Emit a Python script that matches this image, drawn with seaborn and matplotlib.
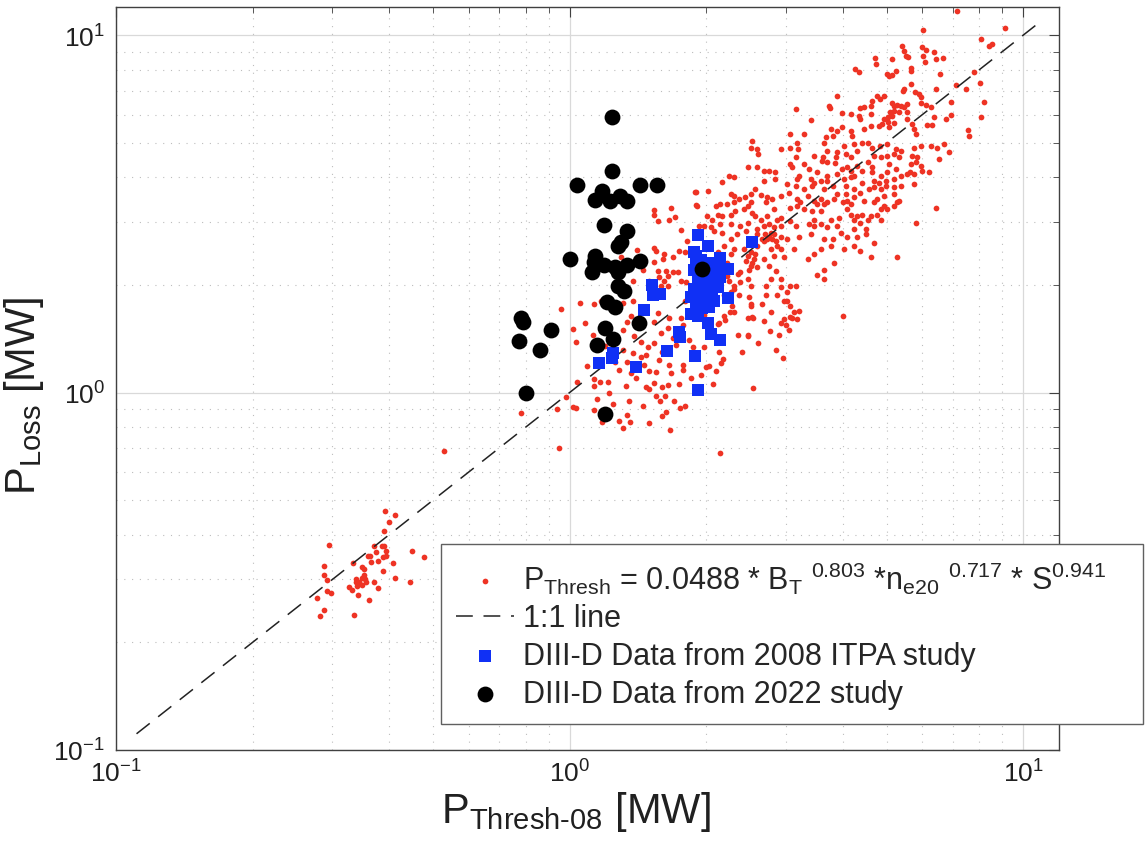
import numpy as np
import pandas as pd
import matplotlib
matplotlib.use('Agg')
import matplotlib.pyplot as plt
import seaborn as sns
from matplotlib.ticker import LogLocator, NullFormatter

# ---- data (MW) ----
# P_Thresh scaling points, low power cluster
red_low = [(0.392,0.466),(0.413,0.454),(0.400,0.434),(0.390,0.410),(0.295,0.374),(0.371,0.372),
           (0.386,0.372),(0.390,0.372),(0.394,0.360),(0.375,0.358),(0.363,0.349),(0.360,0.349),
           (0.388,0.347),(0.394,0.349),(0.379,0.338),(0.365,0.336),(0.333,0.334),(0.450,0.360),
           (0.478,0.347),(0.408,0.334),(0.288,0.327),(0.349,0.325),(0.353,0.321),(0.388,0.317),
           (0.288,0.309),(0.353,0.309),(0.292,0.299),(0.338,0.301),(0.349,0.303),(0.354,0.301),
           (0.413,0.303),(0.445,0.295),(0.338,0.295),(0.344,0.295),(0.356,0.295),(0.371,0.295),
           (0.327,0.286),(0.332,0.280),(0.340,0.288),(0.349,0.289),(0.379,0.284),(0.292,0.279),
           (0.298,0.275),(0.342,0.271),(0.278,0.266),(0.361,0.263),(0.288,0.247),(0.282,0.237),
           (0.335,0.238)]

red_sparse = [(0.96,1.71),(0.782,0.877),(0.94,0.90),(0.98,0.97),(1.02,0.91),(0.529,0.686),
              (0.95,0.70),(2.15,0.677),(2.54,1.03)]

red_mid = [(1.057,1.787),(1.135,1.765),(1.309,1.787),(1.377,1.803),(1.020,1.502),(1.031,1.382),
           (1.079,1.563),(1.124,1.446),(1.090,1.186),(1.036,1.072),(1.130,1.093),(1.165,1.072),
           (1.135,1.046),(1.213,1.072),(1.031,0.908),(1.130,0.892),(1.182,0.829),(1.283,0.834),
           (1.309,0.797),(1.336,0.863),(1.356,0.829),(1.494,0.823),(1.329,1.046),(1.471,1.039),
           (1.494,1.026),(1.532,1.066),(1.595,1.039),(1.620,0.976),(1.579,0.946),(1.628,0.885),
           (1.662,0.787),(1.749,0.903),(1.740,1.059),(2.067,1.059),(1.315,1.493),(1.336,1.573),
           (1.363,1.637),(1.384,1.436),(1.434,1.382),(1.486,1.338),(1.471,1.273),(1.377,1.288),
           (1.315,1.312),(1.342,1.216),(1.283,1.156),(1.363,1.134),(1.456,1.193),(1.548,1.142),
           (1.571,1.232),(1.532,1.373),(1.587,1.464),(1.645,1.512),(1.687,1.418),(1.758,1.616),
           (1.532,1.573),(1.563,1.671),(1.653,1.193),(1.776,1.193),(1.776,1.156),(1.670,1.134),
           (1.975,1.649),(1.831,1.400),(1.868,1.338),(1.975,1.338),(1.995,1.178),(2.026,1.186),
           (2.132,1.296),(2.175,1.240),(2.154,1.208),(2.132,1.563),(2.264,1.682),(2.470,1.616),
           (2.470,1.446),(2.510,1.752),(2.540,1.616),
           (1.532,3.24),(1.532,3.14),(1.678,3.28),(1.704,3.10),(1.563,3.02),(1.653,3.04),
           (1.886,3.64),(1.905,3.35),(1.925,2.92),(1.794,2.47),(1.532,2.54),(1.548,2.49),
           (1.604,2.36),(1.612,2.44),(1.532,2.32),(1.563,2.19),(1.628,2.19),(1.645,2.12),
           (1.687,2.17),(1.730,2.17),(1.571,2.10),(1.612,2.05),(1.494,2.05),(1.645,1.99),
           (1.758,2.05),(1.802,2.04),(1.587,1.99),(1.171,1.80),
           (1.76,2.85),(1.82,2.66),(1.74,2.49),(1.69,2.40),(3.00,1.55),(3.10,1.62),(2.90,1.45),
           (3.05,1.50),(1.30,2.40),(1.41,2.50),(1.45,2.20),(1.38,2.05),(2.70,2.77),(2.75,2.72),
           (2.80,2.69),(2.85,2.66),(2.66,2.69),(2.78,2.80),(2.47,2.41),(2.53,2.31),(2.49,2.21),
           (2.57,2.44),(2.45,2.34),(2.25,2.05),(2.30,1.95),(2.28,1.75),(2.20,1.60),(1.80,1.80),
           (1.78,1.55),(2.35,2.15),
           (1.25,0.93),(1.35,0.95),(1.45,0.92),(1.55,0.98),(1.60,0.86),(1.70,0.95),(1.80,0.92),
           (1.22,1.00),(1.40,1.10),(1.50,1.15),(1.65,1.05),(1.85,1.10),(1.95,1.12),(2.10,1.15),
           (1.15,0.96),(1.26,1.22),(1.44,1.26),(1.60,1.30),(1.72,1.36),(1.20,1.35),(1.66,1.62),
           (2.35,1.45),(2.40,1.30),(2.60,1.38),(2.85,1.32),(2.95,1.25)]

red_upper = [(2.53,5.06),(2.51,4.85),(2.59,4.80),(2.60,4.65),(2.92,4.80),(3.07,4.85),(3.18,5.01),
             (3.19,4.80),(3.15,4.55),(3.46,4.60),(3.64,5.01),(3.70,4.75),(3.63,4.55),(3.89,4.70),
             (4.03,4.90),(4.06,4.65),(4.24,4.96),(4.31,4.75),(4.42,5.01),(4.54,5.01),(4.65,4.85),
             (4.84,4.90),(5.02,4.96),(5.24,4.80),(5.20,4.65),(5.37,4.75),(5.75,4.85),(5.94,4.90),
             (6.26,4.90),(6.47,4.85),(6.69,4.96),(6.88,4.70),(6.53,4.50),(5.85,4.55),(5.70,4.60),
             (5.02,4.60),(5.33,4.55),(4.85,4.55),(4.69,4.60),(4.17,4.55),(3.86,4.55),(3.70,4.41),
             (3.07,4.36),(3.10,4.27),(3.29,4.36),(3.61,4.46),(3.84,4.39),(4.10,4.27),(3.99,4.22),
             (4.17,4.18),(4.31,4.31),(4.54,4.41),(4.65,4.27),(5.06,4.36),(5.24,4.22),(5.65,4.36),
             (5.80,4.41),(5.94,4.31),(5.99,4.18),(6.20,4.13),(5.63,4.13),(5.02,4.13),(4.85,4.04),
             (4.65,4.13),(4.42,4.18),(4.24,4.04),(3.89,4.09),(3.70,4.04),(3.52,4.13),(3.37,4.22),
             (3.21,4.04),(3.18,3.96),(3.40,3.96),(3.46,3.87),(3.58,3.92),(3.70,3.92),(4.03,3.96),
             (4.17,4.00),(4.42,3.87),(4.69,3.92),(4.81,3.87),(4.98,3.92),(5.20,3.96),(5.37,4.04),
             (5.56,4.09),(5.75,4.09),(2.59,4.27),(2.68,4.18),(2.75,4.18),(2.84,4.13),(2.47,4.27),
             (2.25,4.04),(2.30,4.02),(2.17,3.89),(2.84,3.96),(2.68,3.92),
             (1.90,3.65),(2.02,3.67),(2.27,3.59),(2.30,3.54),(2.36,3.48),(2.44,3.52),(2.51,3.59),
             (2.57,3.71),(2.64,3.57),(2.73,3.52),(2.71,3.41),(2.80,3.48),(2.92,3.55),(3.05,3.63),
             (3.18,3.48),(3.23,3.41),(3.35,3.55),(3.46,3.44),(3.58,3.48),(3.70,3.41),(3.83,3.48),
             (3.89,3.59),(4.06,3.59),(4.24,3.71),(4.38,3.63),(4.57,3.71),(4.69,3.75),(4.85,3.71),
             (4.98,3.79),(5.20,3.75),(5.37,3.79),(5.75,3.83),(5.20,3.59),(4.94,3.55),(4.77,3.48),
             (4.46,3.44),(4.24,3.52),(4.10,3.44),(4.06,3.79),(3.80,3.79),(3.64,3.71),(3.43,3.79),
             (3.29,3.71),(3.15,3.79),(3.02,3.83),(4.94,3.33),(5.28,3.41),(5.33,3.44),(4.69,3.41),
             (4.17,3.37),(4.01,3.41),(3.64,3.37),(2.47,3.33),(2.51,3.41),(2.30,3.41),(2.22,3.37),
             (2.15,3.37),(2.10,3.33),
             (1.91,3.33),(2.01,3.12),(2.06,3.05),(2.12,3.15),(2.17,3.12),(2.27,3.15),(2.32,3.22),
             (2.42,3.26),(2.53,3.19),(2.57,3.12),(2.64,3.05),(2.73,3.12),(2.82,3.26),(2.87,3.05),
             (2.75,2.96),(2.92,3.09),(3.07,3.29),(3.18,3.33),(3.29,3.26),(3.43,3.22),(3.52,3.37),
             (3.58,3.22),(3.46,3.05),(3.37,2.96),(3.58,2.96),(3.77,3.05),(3.93,3.09),(4.10,3.26),
             (4.17,3.15),(4.24,3.05),(4.31,3.12),(4.42,3.15),(4.54,3.05),(4.61,3.12),(4.77,3.15),
             (4.85,3.26),(5.02,3.26),(5.20,3.33),(4.85,3.05),(4.38,2.99),(3.89,2.93),(3.70,2.90),
             (3.46,2.93),(3.15,2.93),(3.07,3.02),(2.92,2.93),(2.82,2.90),(2.68,2.93),(2.59,2.87),
             (2.47,2.99),(2.38,2.93),(2.27,2.96),(2.15,2.96),(2.05,2.90),(1.98,2.93),(5.80,2.99),
             (6.42,3.29),(4.50,2.87),(4.24,2.87),
             (2.08,2.83),(2.17,2.80),(2.27,2.69),(2.34,2.77),(2.45,2.83),(2.59,2.77),(2.73,2.69),
             (2.82,2.77),(2.92,2.72),(2.87,2.58),(3.02,2.69),(3.21,2.72),(3.40,2.77),(3.64,2.69),
             (3.80,2.69),(3.96,2.80),(4.10,2.72),(4.31,2.72),(4.50,2.77),(4.69,2.63),(4.24,2.58),
             (4.03,2.52),(3.77,2.58),(3.58,2.52),(3.46,2.44),(3.35,2.36),(3.13,2.52),(2.92,2.52),
             (2.78,2.52),(2.68,2.66),(2.59,2.58),(2.51,2.47),(2.42,2.52),(2.30,2.52),(2.19,2.58),
             (2.12,2.47),(2.27,2.44),(2.55,2.36),(2.68,2.36),(2.82,2.41),(2.97,2.39),(5.28,2.39),
             (4.61,2.39),(4.38,2.49),
             (2.22,2.31),(2.38,2.17),(2.51,2.26),(2.59,2.24),(2.75,2.26),(2.85,2.19),(2.78,2.08),
             (3.07,1.99),(2.92,2.08),(3.15,1.99),(3.52,2.14),(3.64,2.21),(3.64,2.08),(3.83,2.31),
             (2.47,2.08),(2.38,2.04),(2.30,1.99),(2.51,1.99),(2.71,1.99),(2.92,1.97),(2.22,2.12),
             (2.19,1.87),(2.27,1.91),(2.36,1.87),(2.49,1.85),(2.71,1.87),(2.87,1.87),(3.02,1.91),
             (2.97,1.81),(3.07,1.75),(3.21,1.69),(3.13,1.68),(3.07,1.63),(3.18,1.61),(2.97,1.61),
             (2.92,1.57),(2.66,1.77),(2.51,1.77),(2.30,1.68),(2.19,1.64),(2.13,1.56),(2.53,1.63),
             (2.68,1.59),(2.78,1.68),(2.77,1.49),(2.47,1.44),(4.01,1.64),(3.02,1.81)]

red_top = [(7.16,11.66),(6.01,10.33),(9.12,10.50),(8.06,9.79),(8.52,9.48),(8.42,9.34),(5.40,9.30),
           (5.46,9.04),(5.52,8.76),(5.57,8.67),(5.98,9.28),(6.12,9.10),(6.37,8.98),(6.01,8.76),
           (6.07,8.39),(6.42,8.57),(6.67,8.61),(4.72,8.61),(4.75,8.30),(5.15,8.57),(4.25,8.04),
           (4.34,7.90),(5.00,7.78),(5.06,7.69),(5.15,7.72),(5.25,7.95),(5.67,8.12),(5.66,7.95),
           (6.56,7.78),(7.79,7.90),(8.03,7.37),(7.13,7.25),(7.50,7.09),(6.44,7.05),(5.47,7.09),
           (5.44,6.98),(5.65,7.29),(5.77,6.93),(5.90,6.83),(5.95,6.73),(3.89,6.76),(3.73,6.33),
           (3.75,6.26),(4.77,6.76),(4.83,6.65),(4.93,6.76),(4.65,6.55),(4.46,6.28),(4.38,6.24),
           (4.61,6.35),(5.15,6.48),(5.19,6.33),(5.28,6.38),(5.37,6.35),(5.46,6.28),(5.55,6.42),
           (5.19,6.15),(5.09,6.08),(5.32,6.08),(5.13,5.95),(5.03,5.89),(4.93,5.82),(4.89,5.64),
           (5.04,5.72),(5.19,5.67),(5.06,5.52),(5.55,6.08),(5.95,6.48),(6.10,6.38),(6.27,6.28),
           (6.93,6.50),(5.55,5.82),(5.69,5.64),(5.74,5.46),(5.82,5.28),(6.15,5.60),(6.29,5.60),
           (6.35,5.89),(6.76,5.82),(6.95,5.97),(7.56,5.42),(7.58,5.23),(8.06,5.91),(8.20,6.50),
           (3.16,6.22),(3.40,5.80),(3.99,6.04),(4.17,6.02),(4.34,5.95),(4.61,6.02),(4.38,5.82),
           (3.99,5.52),(4.17,5.40),(4.46,5.46),(4.61,5.58),(4.81,5.58),(3.78,5.46),(3.80,5.23),
           (3.67,5.18),(3.29,5.28),(3.07,5.28),(3.89,5.40),(4.20,5.23)]

# DIII-D 2008 ITPA study
blue_x = [1.92, 2.02, 1.88, 1.90, 2.15, 2.23, 2.53, 1.52, 1.58, 1.53, 1.46, 2.23, 1.85, 1.92,
          2.02, 1.74, 1.75, 2.05, 2.15, 1.64, 1.89, 1.25, 1.24, 1.16, 1.40, 1.92,
          1.90, 1.95, 2.00, 2.05, 2.10, 1.92, 1.98, 2.03, 2.08, 1.88, 1.95, 2.00, 2.06,
          2.12, 1.85, 1.92, 1.97, 2.02, 2.08, 1.90, 1.96, 2.03, 2.00, 1.94, 2.15, 1.88]
blue_y = [2.76, 2.57, 2.47, 2.41, 2.38, 2.22, 2.64, 2.00, 1.89, 1.87, 1.70, 1.84, 1.66, 1.64,
          1.57, 1.48, 1.43, 1.46, 1.40, 1.31, 1.27, 1.29, 1.25, 1.21, 1.18, 1.02,
          2.30, 2.35, 2.25, 2.30, 2.20, 2.10, 2.05, 2.10, 2.05, 1.95, 1.95, 1.90, 1.92,
          1.98, 1.85, 1.82, 1.80, 1.85, 1.80, 1.75, 1.72, 1.74, 2.00, 2.15, 2.10, 2.20]

# DIII-D 2022 study
black_x = [1.24, 1.24, 1.04, 1.43, 1.56, 1.18, 1.14, 1.23, 1.29, 1.34, 1.19, 1.34, 1.30, 1.28,
           1.00, 1.14, 1.13, 1.19, 1.26, 1.34, 1.43, 1.12, 1.28, 1.28, 1.32, 1.21, 1.26, 0.78,
           0.79, 0.91, 1.42, 1.20, 1.25, 0.775, 1.15, 0.86, 0.80, 1.20, 1.96]
black_y = [5.90, 4.16, 3.81, 3.81, 3.81, 3.66, 3.46, 3.43, 3.54, 3.43, 2.94, 2.83, 2.64, 2.57,
           2.36, 2.41, 2.32, 2.28, 2.24, 2.27, 2.33, 2.17, 2.17, 1.99, 1.92, 1.79, 1.74, 1.62,
           1.58, 1.50, 1.57, 1.52, 1.41, 1.39, 1.36, 1.32, 1.00, 0.87, 2.22]

one_to_one = [0.111, 11.0]

labels = [r'P$_{\mathrm{Thresh}}$ = 0.0488 * B$_{\mathrm{T}}$ $^{0.803}$ *n$_{\mathrm{e20}}$ $^{0.717}$ * S$^{0.941}$',
          '1:1 line',
          'DIII-D Data from 2008 ITPA study',
          'DIII-D Data from 2022 study']

red = pd.DataFrame(red_low + red_sparse + red_mid + red_upper + red_top, columns=['x', 'y'])
blue = pd.DataFrame({'x': blue_x, 'y': blue_y})
black = pd.DataFrame({'x': black_x, 'y': black_y})

sns.set_theme(style='white')
plt.rcParams['font.family'] = ['Liberation Sans', 'DejaVu Sans']
plt.rcParams['mathtext.fontset'] = 'custom'
plt.rcParams['mathtext.rm'] = 'Liberation Sans'
plt.rcParams['mathtext.it'] = 'Liberation Sans:italic'
plt.rcParams['mathtext.bf'] = 'Liberation Sans:bold'

fig = plt.figure(figsize=(11.46, 8.53), dpi=100)
ax = fig.add_axes([0.1012, 0.1196, 0.8229, 0.8711])
ax.set_xscale('log')
ax.set_yscale('log')

sns.scatterplot(data=red, x='x', y='y', ax=ax, color='#EE3324', s=17, linewidth=0,
                marker='o', label=labels[0], zorder=2)
sns.lineplot(x=one_to_one, y=one_to_one, ax=ax, color='#222222', linewidth=1.1,
             label=labels[1], zorder=3)
ax.lines[-1].set_linestyle((0, (11, 7)))
sns.scatterplot(data=blue, x='x', y='y', ax=ax, color='#1030F5', s=64, linewidth=0,
                marker='s', label=labels[2], zorder=4)
sns.scatterplot(data=black, x='x', y='y', ax=ax, color='black', s=130, linewidth=0,
                marker='o', label=labels[3], zorder=5)

ax.set_xlim(0.1, 12)
ax.set_ylim(0.1, 12)
for axis in (ax.xaxis, ax.yaxis):
    axis.set_major_locator(LogLocator(base=10, numticks=10))
    axis.set_minor_locator(LogLocator(base=10, subs=np.arange(2, 10), numticks=30))
    axis.set_minor_formatter(NullFormatter())

ax.tick_params(which='both', direction='in', top=True, right=True, color='#404040')
ax.tick_params(which='major', length=7, width=0.8, labelsize=19, pad=8, labelcolor='#202020')
ax.tick_params(axis='x', which='major', pad=7)
ax.tick_params(which='minor', length=4, width=0.6)
ax.grid(which='major', color='#d9d9d9', lw=0.9, ls='-')
ax.grid(which='minor', color='#bdbdbd', lw=0.8, ls=(0, (1, 6)))
ax.set_axisbelow(True)
for sp in ax.spines.values():
    sp.set_color('#404040')
    sp.set_linewidth(1.0)

ax.set_xlabel(r'P$_{\mathrm{Thresh\text{-}08}}$ [MW]', fontsize=30, color='#202020')
ax.set_ylabel(r'P$_{\mathrm{Loss}}$ [MW]', fontsize=30, color='#202020')
ax.xaxis.set_label_coords(0.488, -0.053)
ax.yaxis.set_label_coords(-0.074, 0.478)

leg = ax.legend(loc='upper left', bbox_to_anchor=(0.3848, 0.1524, 0.6126, 0.2087),
                bbox_transform=fig.transFigure, mode='expand', borderaxespad=0,
                fontsize=22, frameon=True, fancybox=False, framealpha=1,
                edgecolor='#606060', handlelength=1.9, handletextpad=0.3,
                borderpad=0.5, labelspacing=0.25)
leg.get_frame().set_linewidth(1.0)
leg.set_zorder(10)

fig.savefig('out.png', dpi=100)
